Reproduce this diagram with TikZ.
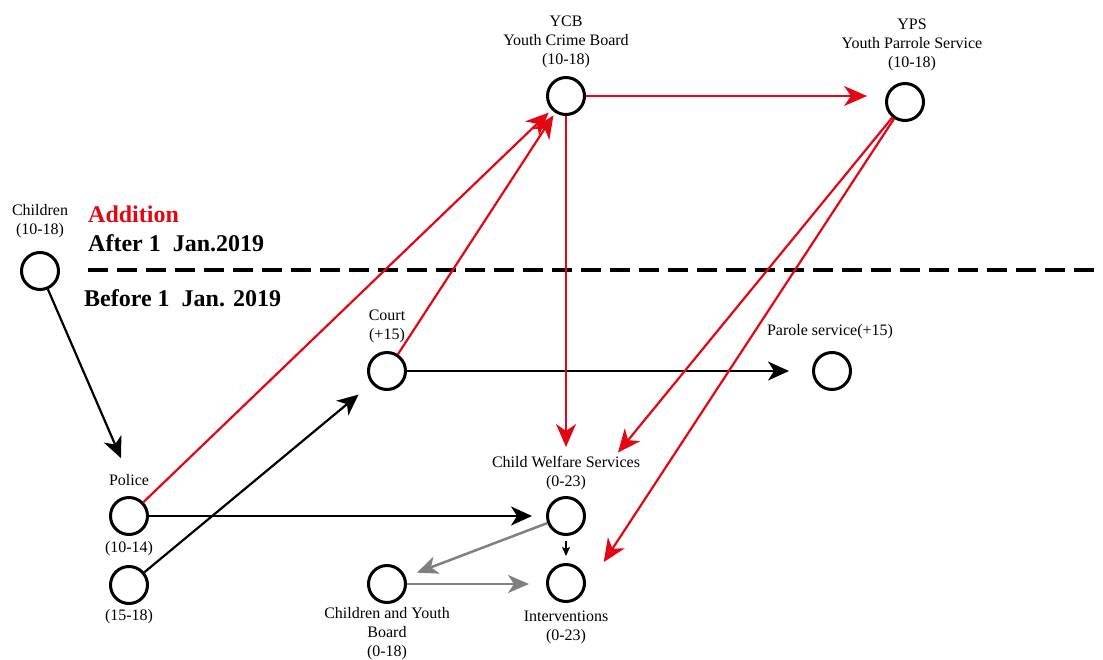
\documentclass[tikz,border=0pt]{standalone}
\usepackage{fontspec}
\setmainfont{Liberation Serif}
\usetikzlibrary{arrows.meta}
\definecolor{redline}{RGB}{227,6,19}
\definecolor{grayline}{RGB}{128,128,128}
\tikzset{
  circ/.style={circle,draw,line width=3pt,minimum size=37pt,inner sep=0pt},
  lbl/.style={font=\fontsize{16}{19}\selectfont,align=center,inner sep=0pt},
  big/.style={font=\fontsize{24}{26}\selectfont\bfseries,inner sep=0pt,anchor=west},
  blk/.style={line width=2.2pt,-{Stealth[length=21pt,width=19pt,inset=6pt]}},
  redarr/.style={draw=redline,line width=2.2pt,-{Stealth[length=23pt,width=20pt,inset=7pt]},color=redline},
  grayarr/.style={draw=grayline,line width=2.5pt,-{Stealth[length=21pt,width=18pt,inset=6pt]},color=grayline},
}
\begin{document}
\begin{tikzpicture}[x=1pt,y=-1pt]
\useasboundingbox (0,0) rectangle (1103,659);
% circles
\node[circ] (ch) at (40,271) {};
\node[circ] (ycb) at (566,96) {};
\node[circ] (yps) at (905,102) {};
\node[circ] (court) at (387,371) {};
\node[circ] (par) at (832,371) {};
\node[circ] (cws) at (566,516) {};
\node[circ] (intv) at (566,583) {};
\node[circ] (cyb) at (387,584) {};
\node[circ] (po) at (129,516) {};
\node[circ] (yo) at (129,585) {};
% labels
\node[lbl] (chl) at (40,221) {Children\\(10-18)};
\node[lbl] (ycbl) at (566,42) {YCB\\Youth Crime Board\\(10-18)};
\node[lbl] (ypsl) at (912,45) {YPS\\Youth Parrole Service\\(10-18)};
\node[lbl] (courtl) at (387,326) {Court\\(+15)};
\node[lbl] (parl) at (830,332) {Parole service(+15)};
\node[lbl] (cwsl) at (566,473) {Child Welfare Services\\(0-23)};
\node[lbl] (poll) at (129,480) {Police};
\node[lbl] (pol2) at (129,549) {(10-14)};
\node[lbl] (yol) at (129,617) {(15-18)};
\node[lbl] (cybl) at (387,634) {Children and Youth\\Board\\(0-18)};
\node[lbl] (intvl) at (566,627) {Interventions\\(0-23)};
% headings
\node[big,text=redline] (add) at (88,214) {Addition};
\node[big] (after) at (88,243) {After 1\ \ Jan.2019};
\node[big] (before) at (84,298) {Before 1\ \ Jan. 2019};
\coordinate (dl) at (88,270);
\coordinate (dr) at (1103,270);
\draw[line width=4.5pt,dash pattern=on 20pt off 9pt] (dl) -- (dr);
% black arrows
\draw[blk,shorten >=63pt] (ch) -- ([xshift=17pt]po.center);
\draw[blk,shorten >=14pt] (po) -- (cws);
\draw[blk,shorten >=17pt] (yo) -- (court);
\draw[blk,shorten >=23pt] (court) -- (par);
\draw[line width=1.5pt,-{Stealth[length=9pt,width=8pt,inset=2pt]},shorten <=5pt,shorten >=7pt] (cws) -- (intv);
% gray arrows
\draw[grayarr,shorten >=12pt] (cws) -- (cyb);
\draw[grayarr,shorten >=17pt] (cyb) -- (cyb -| intv.west);
% red arrows
\draw[redarr,shorten >=4pt] (po) -- (ycb);
\draw[redarr,shorten >=3pt] (court) -- (ycb);
\draw[redarr,shorten >=18pt] (ycb) -- (ycb -| yps.west);
\draw[redarr,shorten >=49pt] (ycb) -- (cws);
\draw[redarr,shorten >=62pt] (yps) -- (cws);
\draw[redarr,shorten >=25pt] (yps) -- ([xshift=24pt]intv.center);
\end{tikzpicture}
\end{document}
